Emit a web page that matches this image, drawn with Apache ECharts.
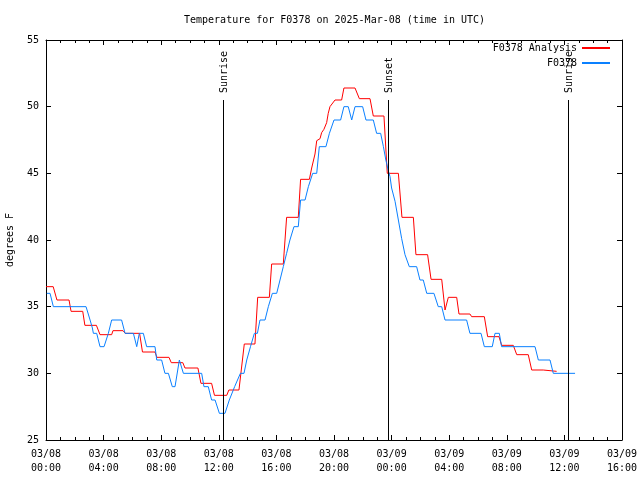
<!DOCTYPE html>
<html>
<head>
<meta charset="utf-8">
<script src="https://cdn.jsdelivr.net/npm/echarts@6/dist/echarts.min.js"></script>
<style>
html,body{margin:0;padding:0;background:#fff;}
#chart{width:640px;height:480px;}
</style>
</head>
<body>
<div id="chart"></div>
<script>
// ---- data (hours since 2025-03-08 00:00 UTC, temperature in °F) ----
var titleText = 'Temperature for F0378 on 2025-Mar-08 (time in UTC)';
var xTickLabels = ['03/08\n00:00','03/08\n04:00','03/08\n08:00','03/08\n12:00','03/08\n16:00','03/08\n20:00',
                   '03/09\n00:00','03/09\n04:00','03/09\n08:00','03/09\n12:00','03/09\n16:00'];
var seriesNames = ['F0378 Analysis', 'F0378'];
var analysisData = [
[0,36.5],[0.5,36.5],[0.76,35.5],[1.6,35.5],[1.74,34.65],[2.55,34.65],[2.7,33.6],[3.5,33.6],[3.75,32.9],[4.56,32.9],
[4.65,33.2],[5.35,33.2],[5.5,33.0],[6.5,33.0],[6.7,31.6],[7.57,31.6],[7.7,31.2],[8.54,31.2],[8.7,30.8],[9.5,30.8],
[9.65,30.4],[10.55,30.4],[10.76,29.25],[11.5,29.25],[11.7,28.35],[12.55,28.35],[12.7,28.75],[13.4,28.75],[13.77,32.2],
[14.51,32.2],[14.7,35.7],[15.51,35.7],[15.67,38.2],[16.48,38.2],[16.71,41.7],[17.52,41.7],[17.68,44.55],[18.29,44.55],
[18.45,45.4],[18.68,46.45],[18.8,47.45],[19.03,47.6],[19.14,48.05],[19.3,48.3],[19.49,48.8],[19.6,49.5],[19.72,50.0],
[20.07,50.5],[20.53,50.5],[20.69,51.4],[21.46,51.4],[21.76,50.6],[22.5,50.6],[22.73,49.3],[23.47,49.3],[23.7,45.0],
[24.47,45.0],[24.72,41.7],[25.51,41.7],[25.69,38.9],[26.5,38.9],[26.74,37.05],[27.48,37.05],[27.71,34.75],[27.94,35.7],
[28.52,35.7],[28.68,34.45],[29.44,34.45],[29.56,34.25],[30.44,34.25],[30.67,32.75],[31.46,32.75],[31.64,32.1],[32.45,32.1],
[32.69,31.4],[33.49,31.4],[33.73,30.25],[34.53,30.25],[34.6,30.15],[35.46,30.15]
];
var obsData = [
[0.05,36],[0.28,36],[0.51,35],[2.78,35],[3.06,34],[3.22,33.4],[3.29,33],[3.52,33],[3.75,32],[4.03,32],[4.33,33],[4.56,34],
[5.25,34],[5.49,33],[6.07,33],[6.3,32],[6.48,33],[6.76,33],[6.99,32],[7.57,32],[7.69,31],[8.03,31],[8.26,30],[8.5,30],
[8.77,29],[8.96,29],[9.26,31],[9.54,30],[10.81,30],[10.97,29],[11.27,29],[11.5,28],[11.74,28],[12.04,27],[12.43,27],
[12.73,28],[13.1,29],[13.5,30],[13.75,30],[13.94,31],[14.2,32],[14.47,33],[14.68,33],[14.86,34],[15.21,34],[15.44,35],
[15.72,36],[16.02,36],[16.25,37],[16.48,38],[16.71,39],[16.94,40],[17.22,41],[17.52,41],[17.68,43],[17.99,43],[18.22,44],
[18.52,45],[18.8,45],[18.98,47],[19.44,47],[19.68,48],[20.0,49],[20.46,49],[20.69,50],[20.99,50],[21.23,49],[21.46,50],
[21.99,50],[22.22,49],[22.73,49],[22.96,48],[23.24,48],[23.43,47],[23.6,46],[23.77,45.2],[23.89,44.75],[24.0,43.9],
[24.24,42.9],[24.47,41.5],[24.7,40.1],[24.93,38.9],[25.23,38],[25.74,38],[25.97,37],[26.2,37],[26.44,36],[26.94,36],
[27.24,35],[27.48,35],[27.71,34],[29.21,34],[29.44,33],[30.21,33],[30.44,32],[30.99,32],[31.18,33],[31.48,33],[31.64,32],
[33.96,32],[34.19,31],[35.0,31],[35.23,30],[36.74,30]
];
var sunHours = [12.29, 23.75, 36.25];
var sunLabels = ['Sunrise', 'Sunset', 'Sunrise'];
var sunLineTop = 50.5;
var xMin = 0, xMax = 40, xStep = 4;
var yMin = 25, yMax = 55, yStep = 5;

// ---- chart ----
var FONT = 'DejaVu Sans Mono';
var chart = echarts.init(document.getElementById('chart'), null, {renderer: 'canvas'});

function xAxisCfg(pos, showLabel) {
  return {
    type: 'value', min: xMin, max: xMax, interval: xStep, position: pos,
    axisLine: {show: true, onZero: false, lineStyle: {color: '#000', width: 1}},
    axisTick: {show: true, inside: true, length: 5, lineStyle: {color: '#000'}},
    minorTick: {show: true, splitNumber: 4, length: 3, lineStyle: {color: '#000'}},
    splitLine: {show: false},
    axisLabel: {
      show: showLabel, color: '#000', fontFamily: FONT, fontSize: 10, lineHeight: 14, margin: 7,
      formatter: function (v) { return xTickLabels[Math.round((v - xMin) / xStep)]; }
    }
  };
}
function yAxisCfg(pos, showLabel) {
  var cfg = {
    type: 'value', min: yMin, max: yMax, interval: yStep, position: pos,
    axisLine: {show: true, onZero: false, lineStyle: {color: '#000', width: 1}},
    axisTick: {show: true, inside: true, length: 5, lineStyle: {color: '#000'}},
    splitLine: {show: false},
    axisLabel: {show: showLabel, color: '#000', fontFamily: FONT, fontSize: 10, margin: 7}
  };
  if (showLabel) {
    cfg.name = 'degrees F';
    cfg.nameLocation = 'middle';
    cfg.nameGap = 31;
    cfg.nameRotate = 90;
    cfg.nameTextStyle = {color: '#000', fontFamily: FONT, fontSize: 10};
  }
  return cfg;
}

var legendCommon = {
  right: 30, align: 'right', padding: 0, itemWidth: 28, itemHeight: 2, icon: 'rect',
  textStyle: {color: '#000', fontFamily: FONT, fontSize: 10}, selectedMode: false
};

var option = {
  animation: false,
  backgroundColor: '#fff',
  title: {
    text: titleText, left: 179, top: 10,
    textStyle: {color: '#000', fontFamily: FONT, fontSize: 10, fontWeight: 'normal'}
  },
  legend: [
    Object.assign({}, legendCommon, {data: [seriesNames[0]], top: 43}),
    Object.assign({}, legendCommon, {data: [seriesNames[1]], top: 58})
  ],
  grid: {left: 46, right: 18, top: 40, bottom: 40, containLabel: false, outerBoundsMode: 'none'},
  xAxis: [xAxisCfg('bottom', true), xAxisCfg('top', false)],
  yAxis: [yAxisCfg('left', true), yAxisCfg('right', false)],
  series: [
    {
      name: seriesNames[0], type: 'line', xAxisIndex: 0, yAxisIndex: 0,
      data: analysisData, symbol: 'none', color: '#ff0000',
      lineStyle: {color: '#ff0000', width: 1}, z: 3
    },
    {
      name: seriesNames[1], type: 'line', xAxisIndex: 0, yAxisIndex: 0,
      data: obsData, symbol: 'none', color: '#0a80ff',
      lineStyle: {color: '#0a80ff', width: 1}, z: 4
    },
    {
      type: 'custom', xAxisIndex: 0, yAxisIndex: 0, z: 5,
      data: sunHours.map(function (h) { return [h]; }),
      encode: {x: 0},
      renderItem: function (params, api) {
        var h = api.value(0);
        var top = api.coord([h, sunLineTop]);
        var bot = api.coord([h, yMin]);
        var px = Math.round(top[0]) + 0.5;
        return {
          type: 'group',
          children: [
            {type: 'line', shape: {x1: px, y1: top[1], x2: px, y2: bot[1]},
             style: {stroke: '#000', lineWidth: 1}},
            {type: 'text', x: px + 1, y: top[1] - 7, rotation: Math.PI / 2,
             style: {text: sunLabels[params.dataIndex], fill: '#000', font: '10px ' + FONT,
                     align: 'left', verticalAlign: 'middle'}}
          ]
        };
      }
    }
  ]
};
chart.setOption(option);
</script>
</body>
</html>
